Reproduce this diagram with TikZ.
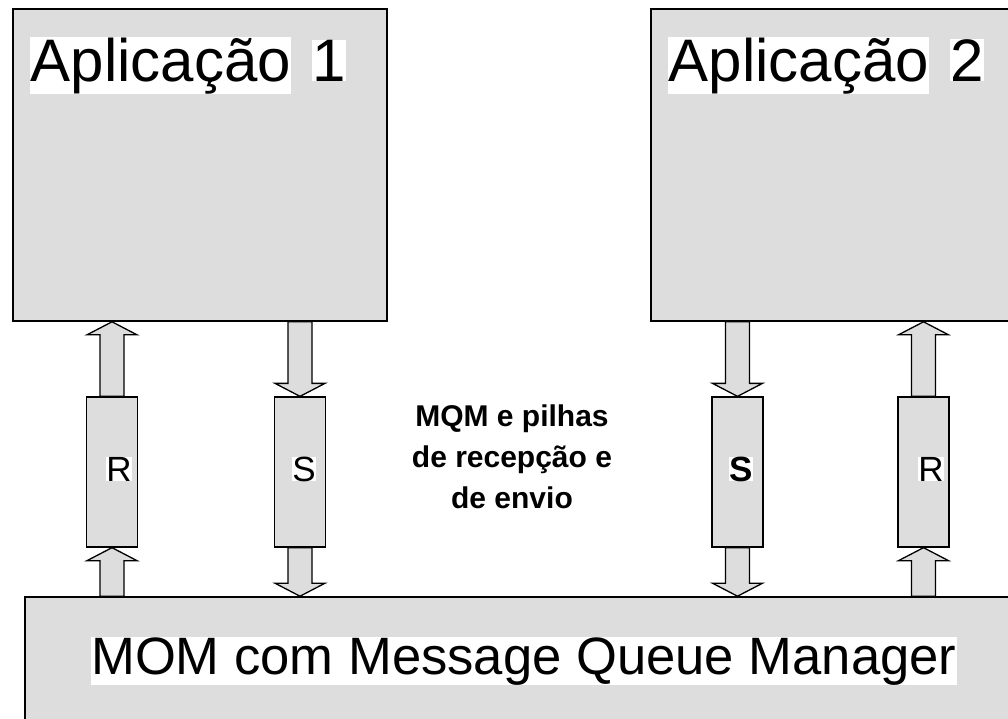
\documentclass[tikz,border=0pt]{standalone}
\usepackage{fontspec}
\setmainfont{Liberation Sans}
\usetikzlibrary{
    calc,
    positioning
}
\definecolor{boxgray}{HTML}{DDDDDD}
\tikzset{appbox/.style={inner sep=0pt, rectangle, draw=black, line width=1.6pt, fill=boxgray}}
\tikzset{queue/.style={inner sep=0pt, rectangle, draw=black, line width=1.3pt, fill=boxgray, minimum width=51pt, minimum height=150pt}}
\tikzset{title/.style={inner sep=0.5pt, anchor=base west, fill=white, font=\fontsize{60}{60}\selectfont}}
\tikzset{qlabel/.style={inner sep=0pt, fill=white, font=\fontsize{35}{35}\selectfont}}
\tikzset{blockarrow/.style={draw=black, line width=1.3pt, fill=boxgray, line join=miter}}
\newcommand{\blockarr}[2]{%
    \draw[blockarrow] let \p1=(#1), \p2=(#2), \n1={ifthenelse(\y2>\y1,13,-13)} in
    (\x1-12pt,\y1) -- (\x1-12pt,\y2-\n1) -- (\x1-25pt,\y2-\n1) -- (\x1,\y2)
    -- (\x1+25pt,\y2-\n1) -- (\x1+12pt,\y2-\n1) -- (\x1+12pt,\y1) -- cycle;}

\begin{document}
\begin{tikzpicture}[x=1pt, y=-1pt]
                        \clip (0,0) rectangle (1008,718);
                        \node[appbox, minimum width=374pt, minimum height=312pt] (app1) at (200,165) {};
                        \node[appbox, minimum width=380pt, minimum height=312pt] (app2) at (841,165) {};
                        \node[appbox, minimum width=1006pt, minimum height=150pt] (mom) at (528,672) {};

                        \node[queue] (r1) at (112,472) {};
                        \node[queue] (s1) at (300,472) {};
                        \node[queue] (s2) at (737.5,472) {};
                        \node[queue] (r2) at (923.5,472) {};

                        \node[title] (t1) at (30,81) {Aplicação};
                        \node[title, inner sep=0pt] (n1) at (312,81) {1};
                        \node[title] (t2) at (668,81) {Aplicação};
                        \node[title, inner sep=0pt] (n2) at (950,81) {2};
                        \node[inner sep=0pt, anchor=base west, fill=white, font=\fontsize{52.6}{52.6}\selectfont] (momtext) at (91,674) {MOM com Message Queue Manager};
                        \node[inner sep=0pt, anchor=north, align=center, font=\bfseries\fontsize{30}{41}\selectfont] (mqm) at (512,405) {MQM e pilhas\\de recepção e\\de envio};

                        \node[qlabel] (lr1) at (119,469) {R};
                        \node[qlabel] (ls1) at (304,469) {S};
                        \node[qlabel, font=\bfseries\fontsize{35}{35}\selectfont] (ls2) at (741,469) {S};
                        \node[qlabel] (lr2) at (931,469) {R};

                        \blockarr{r1.north}{r1.north |- app1.south}
                        \blockarr{r1.south |- mom.north}{r1.south}
                        \blockarr{s1.north |- app1.south}{s1.north}
                        \blockarr{s1.south}{s1.south |- mom.north}
                        \blockarr{s2.north |- app2.south}{s2.north}
                        \blockarr{s2.south}{s2.south |- mom.north}
                        \blockarr{r2.north}{r2.north |- app2.south}
                        \blockarr{r2.south |- mom.north}{r2.south}
                    \end{tikzpicture}
\end{document}
